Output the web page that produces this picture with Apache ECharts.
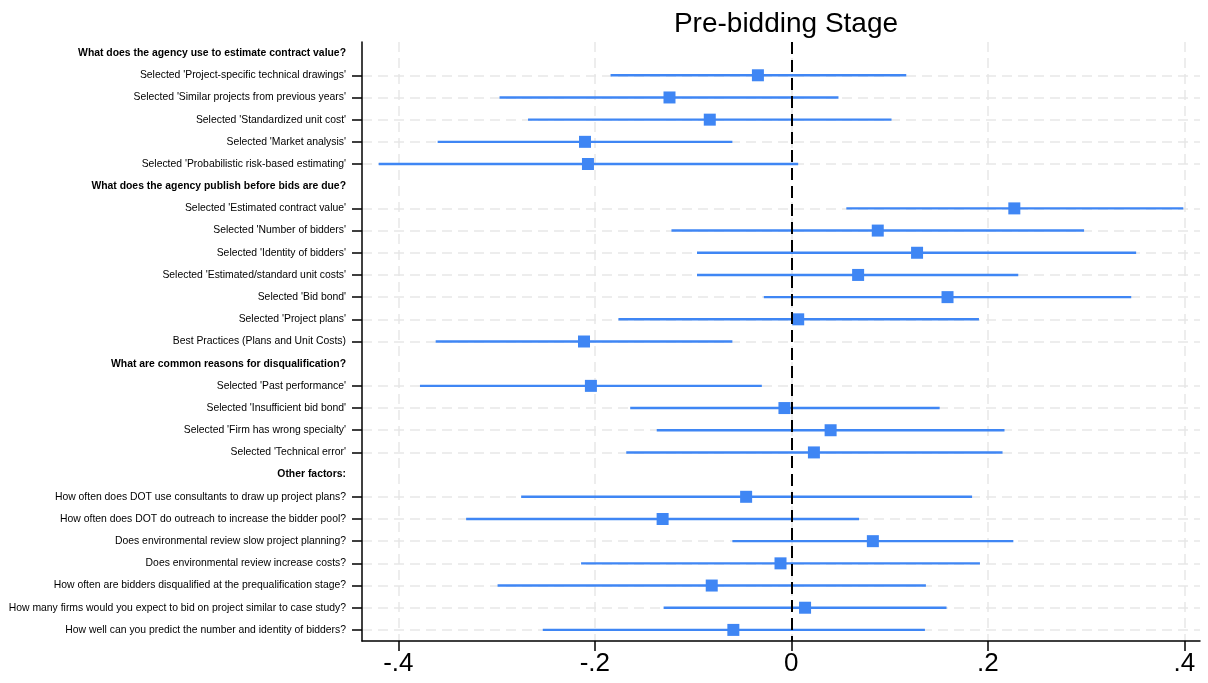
<!DOCTYPE html>
<html>
<head>
<meta charset="utf-8">
<script src="https://cdn.jsdelivr.net/npm/echarts@6/dist/echarts.min.js"></script>
<style>
  html, body { margin: 0; padding: 0; background: #fff; }
  #chart { width: 1208px; height: 683px; }
</style>
</head>
<body>
<div id="chart"></div>
<script>
// row labels, top to bottom (section headers have no estimate)
const categories = [
  'What does the agency use to estimate contract value?',
  "Selected 'Project-specific technical drawings'",
  "Selected 'Similar projects from previous years'",
  "Selected 'Standardized unit cost'",
  "Selected 'Market analysis'",
  "Selected 'Probabilistic risk-based estimating'",
  'What does the agency publish before bids are due?',
  "Selected 'Estimated contract value'",
  "Selected 'Number of bidders'",
  "Selected 'Identity of bidders'",
  "Selected 'Estimated/standard unit costs'",
  "Selected 'Bid bond'",
  "Selected 'Project plans'",
  'Best Practices (Plans and Unit Costs)',
  'What are common reasons for disqualification?',
  "Selected 'Past performance'",
  "Selected 'Insufficient bid bond'",
  "Selected 'Firm has wrong specialty'",
  "Selected 'Technical error'",
  'Other factors:',
  'How often does DOT use consultants to draw up project plans?',
  'How often does DOT do outreach to increase the bidder pool?',
  'Does environmental review slow project planning?',
  'Does environmental review increase costs?',
  'How often are bidders disqualified at the prequalification stage?',
  'How many firms would you expect to bid on project similar to case study?',
  'How well can you predict the number and identity of bidders?'
];
const headers = [
  'What does the agency use to estimate contract value?',
  'What does the agency publish before bids are due?',
  'What are common reasons for disqualification?',
  'Other factors:'
];

// point estimates and 95% CI bounds (null = header row)
const estimate = [null, -0.034, -0.124, -0.083, -0.210, -0.207,
  null, 0.227, 0.088, 0.128, 0.068, 0.159, 0.007, -0.211,
  null, -0.204, -0.007, 0.040, 0.023,
  null, -0.046, -0.131, 0.083, -0.011, -0.081, 0.014, -0.059];
const lower = [null, -0.184, -0.297, -0.268, -0.360, -0.420,
  null, 0.056, -0.122, -0.096, -0.096, -0.028, -0.176, -0.362,
  null, -0.378, -0.164, -0.137, -0.168,
  null, -0.275, -0.331, -0.060, -0.214, -0.299, -0.130, -0.253];
const upper = [null, 0.117, 0.048, 0.102, -0.060, 0.007,
  null, 0.399, 0.298, 0.351, 0.231, 0.346, 0.191, -0.060,
  null, -0.030, 0.151, 0.217, 0.215,
  null, 0.184, 0.069, 0.226, 0.192, 0.137, 0.158, 0.136];

const xTicks = [-0.4, -0.2, 0, 0.2, 0.4];

const blue = '#3f86f4';
const font = 'Liberation Sans';
const notHeader = (idx, val) => headers.indexOf(val) < 0;

const ciData = [];
const pointData = [];
categories.forEach((c, i) => {
  if (estimate[i] === null) return;
  ciData.push([lower[i], upper[i], i]);
  pointData.push([estimate[i], i]);
});

const chart = echarts.init(document.getElementById('chart'));
chart.setOption({
  animation: false,
  title: {
    text: 'Pre-bidding Stage',
    left: 781,
    textAlign: 'center',
    top: 5,
    textStyle: { fontFamily: font, fontSize: 28, fontWeight: 'normal', color: '#000' }
  },
  grid: { left: 362, right: 8, top: 42, bottom: 42 },
  xAxis: {
    type: 'value',
    min: -0.437,
    max: 0.416,
    axisLine: { show: true, onZero: false, lineStyle: { color: '#000', width: 1.5 } },
    axisTick: { show: true, length: 10, customValues: xTicks, lineStyle: { color: '#000', width: 1.5 } },
    axisLabel: {
      customValues: xTicks,
      margin: 10,
      fontFamily: font,
      fontSize: 26,
      color: '#000',
      formatter: v => {
        if (Math.abs(v) < 1e-9) return '0';
        return (v < 0 ? '-' : '') + String(Math.abs(v)).replace(/^0/, '');
      }
    },
    splitLine: { show: true, lineStyle: { color: '#e8e8e8', width: 1.5, type: [10, 6] } }
  },
  yAxis: {
    type: 'category',
    data: categories,
    inverse: true,
    axisLine: { show: true, onZero: false, lineStyle: { color: '#000', width: 1.5 } },
    axisTick: { show: true, length: 10, alignWithLabel: true, interval: notHeader, lineStyle: { color: '#000', width: 1.5 } },
    axisLabel: {
      interval: 0,
      margin: 16,
      fontFamily: font,
      fontSize: 10.4,
      color: '#000',
      formatter: v => headers.indexOf(v) >= 0 ? '{b|' + v + '}' : v,
      rich: { b: { fontFamily: font, fontSize: 10.4, fontWeight: 'bold', color: '#000' } }
    },
    splitLine: {
      show: true,
      alignWithLabel: true,
      interval: notHeader,
      lineStyle: { color: '#e8e8e8', width: 1.5, type: [10, 6] }
    }
  },
  series: [
    {
      type: 'custom',
      z: 2,
      data: ciData,
      encode: { x: [0, 1], y: 2 },
      renderItem: (params, api) => {
        const a = api.coord([api.value(0), api.value(2)]);
        const b = api.coord([api.value(1), api.value(2)]);
        return {
          type: 'line',
          shape: { x1: a[0], y1: a[1], x2: b[0], y2: b[1] },
          style: { stroke: blue, lineWidth: 2.4 }
        };
      },
      silent: true
    },
    {
      type: 'scatter',
      z: 3,
      data: pointData,
      symbol: 'rect',
      symbolSize: 12,
      itemStyle: { color: blue, opacity: 1 },
      silent: true,
      markLine: {
        silent: true,
        symbol: 'none',
        label: { show: false },
        lineStyle: { color: '#000', width: 2, type: [12, 6] },
        data: [{ xAxis: 0 }]
      }
    }
  ]
});
</script>
</body>
</html>
